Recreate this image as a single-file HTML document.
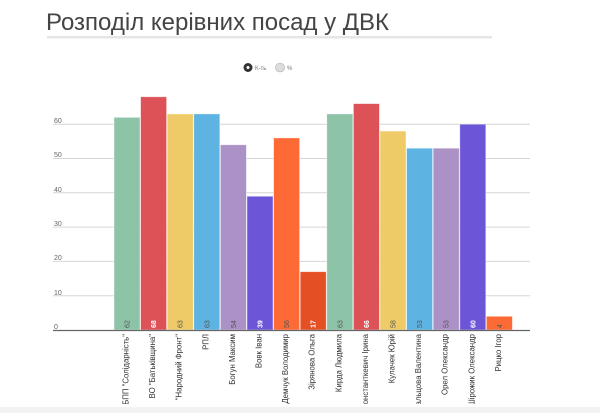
<!DOCTYPE html>
<html><head><meta charset="utf-8"><style>
body{margin:0;width:600px;height:413px;background:#fff;overflow:hidden;font-family:"Liberation Sans",sans-serif}
</style></head><body>
<svg width="600" height="413" xmlns="http://www.w3.org/2000/svg" font-family="Liberation Sans, sans-serif">
<defs><clipPath id="c"><rect x="0" y="0" width="600" height="404"/></clipPath></defs>
<rect x="0" y="407" width="600" height="6" fill="#f2f2f2"/>
<text x="46" y="30" font-size="24" fill="#444">Розподіл керівних посад у ДВК</text>
<rect x="47" y="36" width="445" height="2.5" fill="#e6e6e6"/>
<circle cx="248" cy="67.5" r="4.5" fill="#333"/><circle cx="248" cy="67.5" r="1.5" fill="#fff"/>
<text x="255" y="70" font-size="6" fill="#777">К-ть</text>
<circle cx="280" cy="67.5" r="4.5" fill="#ddd" stroke="#aaa" stroke-width="0.6"/>
<text x="287" y="70" font-size="6" fill="#777">%</text>
<g stroke="#d6d6d6" stroke-width="1">
<line x1="53" x2="530" y1="295.7" y2="295.7"/><line x1="53" x2="530" y1="261.4" y2="261.4"/>
<line x1="53" x2="530" y1="227.1" y2="227.1"/><line x1="53" x2="530" y1="192.8" y2="192.8"/>
<line x1="53" x2="530" y1="158.5" y2="158.5"/><line x1="53" x2="530" y1="124.2" y2="124.2"/>
</g>
<g font-size="7" fill="#666">
<text x="54" y="329">0</text><text x="54" y="295">10</text><text x="54" y="260">20</text>
<text x="54" y="226">30</text><text x="54" y="192">40</text><text x="54" y="157">50</text><text x="54" y="123">60</text>
</g>
<g id="bars" clip-path="url(#c)"></g>
<line x1="53" x2="530" y1="330.5" y2="330.5" stroke="#666" stroke-width="1.2"/>
</svg>
<script>
var d=[["БПП \"Солідарність\"",62,"#8dc3a7",0],["ВО \"Батьківщина\"",68,"#dd5257",1],["\"Народний Фронт\"",63,"#eecb66",0],["РПЛ",63,"#5db3e2",0],["Богун Максим",54,"#ab91c5",0],["Вовк Іван",39,"#6d55d8",1],["Демчук Володимир",56,"#fe6a35",0],["Зірянова Ольга",17,"#e44f24",1],["Кирда Людмила",63,"#8dc3a7",0],["Константкевич Ірина",66,"#dd5257",1],["Кулачек Юрій",58,"#eecb66",0],["Пальцова Валентина",53,"#5db3e2",0],["Орел Олександр",53,"#ab91c5",0],["Шірожик Олександр",60,"#6d55d8",1],["Рицко Ігор",4,"#fe6a35",0]];
var g=document.getElementById("bars"),s="";
d.forEach(function(b,i){var x=114+i*26.6,h=b[1]*3.43,y=330-h;
s+='<rect x="'+x+'" y="'+y+'" width="26" height="'+h+'" fill="'+b[2]+'" stroke="#fff" stroke-width="0.8" stroke-opacity="0.5"/>';
var cx=x+15.5;
s+='<text transform="translate('+cx+',328) rotate(-90)" font-size="7" font-weight="'+(b[3]?'bold':'normal')+'" fill="'+(b[3]?'#fff':'#555')+'">'+b[1]+'</text>';
s+='<text transform="translate('+(cx-1)+',334) rotate(-90)" font-size="7.8" text-anchor="end" fill="#333">'+b[0].replace(/"/g,'&quot;')+'</text>';});
g.innerHTML=s;
</script>
</body></html>
